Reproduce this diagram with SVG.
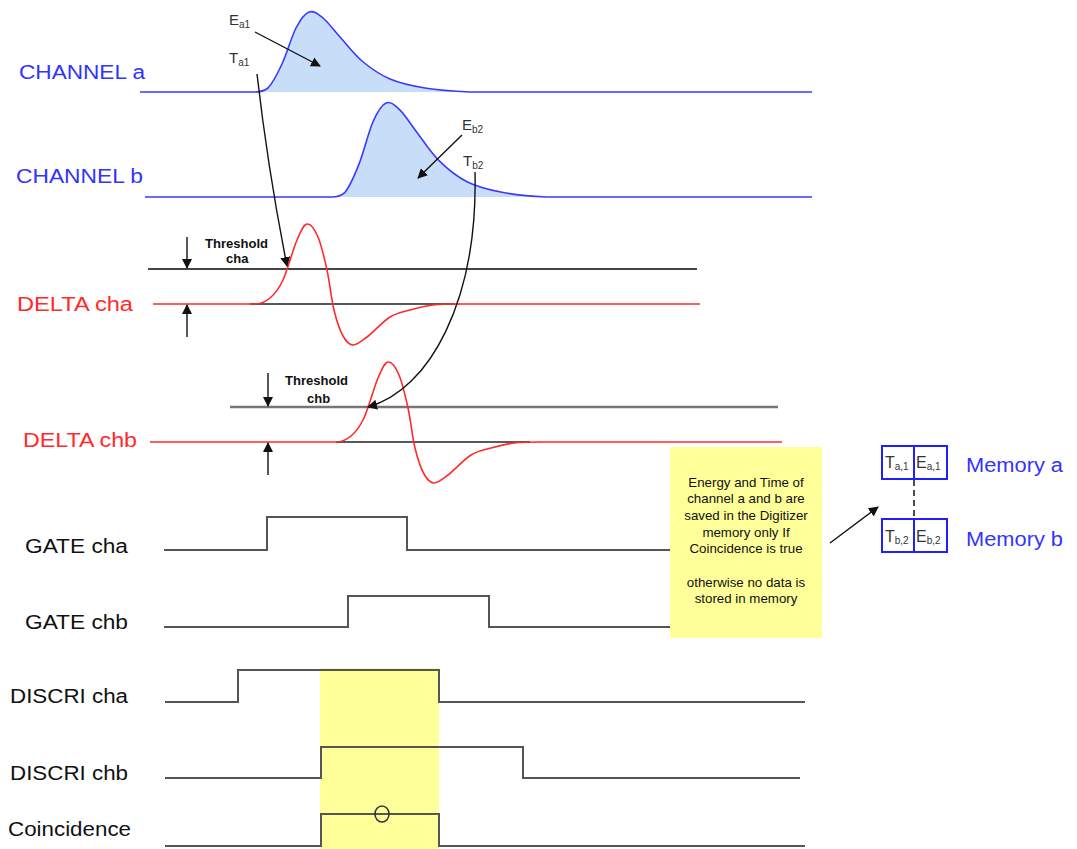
<svg xmlns="http://www.w3.org/2000/svg" width="1077" height="849" viewBox="0 0 1077 849">
<style>
.lbl{font-family:"Liberation Sans",Arial,sans-serif;font-size:20px}
.blue{fill:#3333ff}
.red{fill:#ff2a2a}
.blk{fill:#111}
.th{font-family:"Liberation Sans",Arial,sans-serif;font-size:13px;font-weight:bold;fill:#111}
.sm{font-family:"Liberation Sans",Arial,sans-serif;fill:#333}
.note{font-family:"Liberation Sans",Arial,sans-serif;font-size:13.3px;fill:#111;text-anchor:middle}
.bw{fill:none;stroke:#3a3aff;stroke-width:1.6}
.fillb{fill:#c8ddf8;stroke:none}
.rw{fill:none;stroke:#ff2a2a;stroke-width:1.6}
.thl{fill:none;stroke:#444;stroke-width:2}
.base{fill:none;stroke:#222;stroke-width:1.5}
.dig{fill:none;stroke:#555;stroke-width:2}
.arr{fill:none;stroke:#111;stroke-width:1.4;marker-end:url(#ah)}
.mem{fill:#fff;stroke:#2020ff;stroke-width:2}
</style>
<defs>
<marker id="ah" viewBox="0 0 10 10" refX="9" refY="5" markerWidth="10" markerHeight="10" markerUnits="userSpaceOnUse" orient="auto">
<path d="M0,0 L10,5 L0,10 Z" fill="#111"/>
</marker>
<path id="dpulse" d="M255,304 C260,304 265.3,302 270,298 C274.7,294 278.5,289.7 283,280 C287.5,270.3 293,249.3 297,240 C301,230.7 303.5,224.5 307,224 C310.5,223.5 314.7,229.3 318,237 C321.3,244.7 324.3,257.8 327,270 C329.7,282.2 331.3,299 334,310 C336.7,321 339.8,330.2 343,336 C346.2,341.8 349,344.8 353,345 C357,345.2 360.8,341.7 367,337 C373.2,332.3 382.8,321.5 390,317 C397.2,312.5 402.8,312 410,310 C417.2,308 424.7,306 433,305 C441.3,304 450.5,304 460,304"/>
</defs>
<rect width="1077" height="849" fill="#fff"/>

<g id="channel-a">
<path class="fillb" d="M255,92 C260,92 263.5,91.5 268,88 C272.5,83.3 277.3,74 282,64 C286.7,54 291.5,36.7 296,28 C300.5,19.3 304.5,13.7 309,12 C313.5,10.3 317.8,13.8 323,18 C328.2,22.2 333.5,29.8 340,37 C346.5,44.2 353.7,54 362,61 C370.3,68 379.5,74.5 390,79 C400.5,83.5 411.7,85.8 425,88 C438.3,90.2 454.2,91.3 470,92 Z"/>
<path class="bw" d="M140,92 L255,92 C260,92 263.5,91.5 268,88 C272.5,83.3 277.3,74 282,64 C286.7,54 291.5,36.7 296,28 C300.5,19.3 304.5,13.7 309,12 C313.5,10.3 317.8,13.8 323,18 C328.2,22.2 333.5,29.8 340,37 C346.5,44.2 353.7,54 362,61 C370.3,68 379.5,74.5 390,79 C400.5,83.5 411.7,85.8 425,88 C438.3,90.2 454.2,91.3 470,92 L812,92"/>
<text class="lbl blue" x="19" y="79" textLength="126" lengthAdjust="spacingAndGlyphs">CHANNEL a</text>
<text class="sm" x="229" y="25" font-size="15">E<tspan font-size="10" dy="3">a1</tspan></text>
<text class="sm" x="229" y="63" font-size="15">T<tspan font-size="10" dy="3">a1</tspan></text>
</g>

<g id="channel-b">
<path class="fillb" d="M332,197 C337,197 340.5,196.4 345,192.3 C349.5,186.8 354.3,175.9 359,164.1 C363.7,152.4 368.5,132 373,121.8 C377.5,111.6 381.5,105 386,103 C390.5,101 394.8,105.1 400,110.1 C405.2,115.1 410.5,123.9 417,132.4 C423.5,140.8 430.7,152.4 439,160.6 C447.3,168.8 456.5,176.4 467,181.7 C477.5,187 488.7,189.7 502,192.3 C515.3,194.9 531.2,196.2 547,197 Z"/>
<path class="bw" d="M145,197 L332,197 C337,197 340.5,196.4 345,192.3 C349.5,186.8 354.3,175.9 359,164.1 C363.7,152.4 368.5,132 373,121.8 C377.5,111.6 381.5,105 386,103 C390.5,101 394.8,105.1 400,110.1 C405.2,115.1 410.5,123.9 417,132.4 C423.5,140.8 430.7,152.4 439,160.6 C447.3,168.8 456.5,176.4 467,181.7 C477.5,187 488.7,189.7 502,192.3 C515.3,194.9 531.2,196.2 547,197 L812,197"/>
<text class="lbl blue" x="16" y="183" textLength="127" lengthAdjust="spacingAndGlyphs">CHANNEL b</text>
<text class="sm" x="462" y="130" font-size="15">E<tspan font-size="10" dy="3">b2</tspan></text>
<text class="sm" x="463" y="166" font-size="15">T<tspan font-size="10" dy="3">b2</tspan></text>
</g>

<g id="delta-cha">
<line class="thl" x1="148" y1="269" x2="697" y2="269"/>
<line class="base" x1="250" y1="304" x2="455" y2="304"/>
<line class="rw" x1="153" y1="304" x2="256" y2="304"/>
<use href="#dpulse" class="rw"/>
<line class="rw" x1="459" y1="304" x2="700" y2="304"/>
<text class="lbl red" x="17" y="311" textLength="116" lengthAdjust="spacingAndGlyphs">DELTA cha</text>
<text class="th" x="205" y="248" textLength="63" lengthAdjust="spacingAndGlyphs">Threshold</text>
<text class="th" x="226" y="263">cha</text>
</g>

<g id="delta-chb">
<line x1="230" y1="407" x2="778" y2="407" stroke="#777" stroke-width="2.6"/>
<line class="base" x1="336" y1="442" x2="530" y2="442"/>
<line class="rw" x1="150" y1="442" x2="337" y2="442"/>
<use href="#dpulse" class="rw" transform="translate(81,138)"/>
<line class="rw" x1="540" y1="442" x2="782" y2="442"/>
<text class="lbl red" x="23" y="447" textLength="114" lengthAdjust="spacingAndGlyphs">DELTA chb</text>
<text class="th" x="285" y="385" textLength="63" lengthAdjust="spacingAndGlyphs">Threshold</text>
<text class="th" x="307" y="403">chb</text>
</g>

<g id="gate-cha">
<path class="dig" d="M164,550 H267 V517 H407 V550 H670"/>
<text class="lbl blk" x="25" y="553" textLength="103" lengthAdjust="spacingAndGlyphs">GATE cha</text>
</g>

<g id="gate-chb">
<path class="dig" d="M164,627 H348 V596 H489 V627 H670"/>
<text class="lbl blk" x="25" y="629" textLength="103" lengthAdjust="spacingAndGlyphs">GATE chb</text>
</g>

<g id="coincidence-window">
<rect x="320" y="668" width="119" height="181" fill="#ffff99"/>
</g>

<g id="discri-cha">
<path class="dig" stroke="#444" d="M165,702 H238 V670 H439 V702 H805"/>
<text class="lbl blk" x="10" y="703" textLength="118" lengthAdjust="spacingAndGlyphs">DISCRI cha</text>
</g>

<g id="discri-chb">
<path class="dig" d="M165,778 H321 V747 H523 V778 H800"/>
<text class="lbl blk" x="10" y="780" textLength="118" lengthAdjust="spacingAndGlyphs">DISCRI chb</text>
</g>

<g id="coincidence">
<path class="dig" d="M165,846 H321 V814 H439 V846 H805"/>
<ellipse cx="382" cy="814" rx="7" ry="8" fill="none" stroke="#333" stroke-width="1.5"/>
<text class="lbl blk" x="8" y="836" textLength="123" lengthAdjust="spacingAndGlyphs">Coincidence</text>
</g>

<g id="note">
<rect x="670" y="447" width="152" height="191" fill="#ffff99"/>
<text class="note" x="746" y="487">Energy and  Time of</text>
<text class="note" x="746" y="503">channel  a and b are</text>
<text class="note" x="746" y="520">saved in the Digitizer</text>
<text class="note" x="746" y="537">memory only If</text>
<text class="note" x="746" y="553">Coincidence is true</text>
<text class="note" x="746" y="587">otherwise no data is</text>
<text class="note" x="746" y="603">stored in memory</text>
</g>

<g id="memory-a">
<rect class="mem" x="882" y="446" width="65" height="33"/>
<line x1="914" y1="446" x2="914" y2="479" stroke="#2020ff" stroke-width="2"/>
<text class="sm" x="885" y="468" font-size="16">T<tspan font-size="10" dy="2">a,1</tspan></text>
<text class="sm" x="916" y="468" font-size="16">E<tspan font-size="10" dy="2">a,1</tspan></text>
<text class="lbl blue" x="966" y="472" textLength="97" lengthAdjust="spacingAndGlyphs">Memory a</text>
</g>

<g id="memory-b">
<rect class="mem" x="882" y="519" width="65" height="33"/>
<line x1="914" y1="519" x2="914" y2="552" stroke="#2020ff" stroke-width="2"/>
<text class="sm" x="885" y="542" font-size="16">T<tspan font-size="10" dy="2">b,2</tspan></text>
<text class="sm" x="916" y="542" font-size="16">E<tspan font-size="10" dy="2">b,2</tspan></text>
<text class="lbl blue" x="966" y="546" textLength="97" lengthAdjust="spacingAndGlyphs">Memory b</text>
</g>

<g id="connectors">
<path class="arr" d="M255,32 L320,66"/>
<path class="arr" d="M462,135 L418,178"/>
<path class="arr" d="M257,74 Q268,170 287,266"/>
<path class="arr" d="M475,172 C478,300 430,390 368,407"/>
<path class="arr" d="M187,237 L187,268"/>
<path class="arr" d="M187,337 L187,305"/>
<path class="arr" d="M268,373 L268,406"/>
<path class="arr" d="M268,475 L268,443"/>
<path class="arr" d="M830,543 L878,507"/>
<line x1="914" y1="480" x2="914" y2="518" stroke="#111" stroke-width="1.5" stroke-dasharray="6,4"/>
</g>
</svg>
